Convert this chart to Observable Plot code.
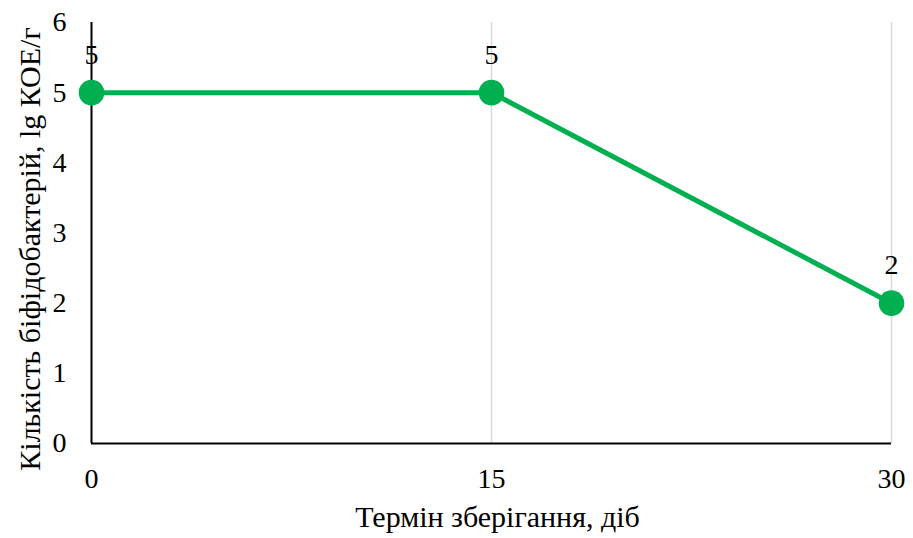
<!DOCTYPE html>
<html>
<head>
<meta charset="utf-8">
<script src="https://cdn.jsdelivr.net/npm/d3@7"></script>
<script src="https://cdn.jsdelivr.net/npm/@observablehq/plot@0.6"></script>
<style>
  html, body { margin: 0; padding: 0; background: #fff; }
  svg { display: block; }
</style>
</head>
<body>
<div id="chart"></div>
<script>
// Storage time (days) and bifidobacteria count (lg CFU/g)
const days = [0, 15, 30];
const counts = [5, 5, 2];
const xTicks = [0, 15, 30];
const yTicks = [0, 1, 2, 3, 4, 5, 6];
const xTitle = "Термін зберігання, діб";
const yTitle = "Кількість біфідобактерій, lg КОЕ/г";

const data = days.map((d, i) => ({day: d, value: counts[i]}));
const green = "#00B050";
const font = "'Liberation Serif', 'Times New Roman', serif";

const chart = Plot.plot({
  width: 913,
  height: 538,
  marginLeft: 91,
  marginRight: 22,
  marginTop: 22,
  marginBottom: 95,
  style: {fontFamily: font, fontSize: "28px", color: "#000", background: "#fff", overflow: "visible"},
  x: {domain: [0, 30], ticks: xTicks},
  y: {domain: [0, 6], ticks: yTicks},
  marks: [
    // vertical gridlines
    Plot.ruleX([15, 30], {stroke: "#d9d9d9", strokeWidth: 1.5}),
    // axis lines
    Plot.ruleY([0], {stroke: "#000", strokeWidth: 2}),
    Plot.ruleX([0], {stroke: "#000", strokeWidth: 2}),
    Plot.axisX({ticks: xTicks, tickSize: 0, tickPadding: 25, fontSize: 28, tickFormat: "d", label: null}),
    Plot.axisY({ticks: yTicks, tickSize: 0, tickPadding: 25, fontSize: 28, tickFormat: "d", label: null}),
    // axis titles
    Plot.text([xTitle], {frameAnchor: "bottom", text: d => d, dx: 6, dy: 83, fontSize: 30, fill: "#000", textAnchor: "middle"}),
    Plot.text([yTitle], {frameAnchor: "left", text: d => d, rotate: -90, dx: -61, dy: 16, fontSize: 30, fill: "#000", textAnchor: "middle"}),
    // series
    Plot.line(data, {x: "day", y: "value", stroke: green, strokeWidth: 5}),
    Plot.dot(data, {x: "day", y: "value", r: 12.8, fill: green}),
    Plot.text(data, {x: "day", y: "value", text: d => String(d.value), dy: -38, fontSize: 28, fill: "#000"})
  ]
});

document.getElementById("chart").appendChild(chart);
</script>
</body>
</html>
